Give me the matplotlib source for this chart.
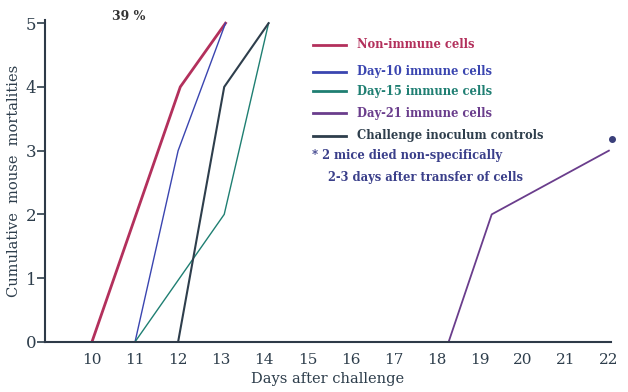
import matplotlib
matplotlib.use("Agg")
from matplotlib import pyplot as plt

# Data (days after challenge, cumulative mortalities)
non_immune_x = [10, 12.05, 13.1]
non_immune_y = [0, 4, 5]
day10_x = [11, 12.0, 13.1]
day10_y = [0, 3, 5]
day15_x = [11, 13.07, 14.1]
day15_y = [0, 2, 5]
day21_x = [18.28, 19.28, 22]
day21_y = [0, 2, 3]
control_x = [12, 13.07, 14.1]
control_y = [0, 4, 5]

x_ticks = [10, 11, 12, 13, 14, 15, 16, 17, 18, 19, 20, 21, 22]
y_ticks = [0, 1, 2, 3, 4, 5]

labels = ["Non-immune cells", "Day-10 immune cells", "Day-15 immune cells",
          "Day-21 immune cells", "Challenge inoculum controls"]
colors = ["#b3305c", "#3a45b0", "#1f7f72", "#6a3d8c", "#2e3e4c"]

plt.rcParams['font.family'] = ['DejaVu Serif']

fig = plt.figure(figsize=(6.28, 3.92), dpi=100)
ax = fig.add_axes([0.071, 0.128, 0.902, 0.821])

ax.plot(non_immune_x, non_immune_y, color=colors[0], lw=2.0)
ax.plot(day10_x, day10_y, color=colors[1], lw=1.0)
ax.plot(day15_x, day15_y, color=colors[2], lw=1.0)
ax.plot(day21_x, day21_y, color=colors[3], lw=1.3)
ax.plot(control_x, control_y, color=colors[4], lw=1.5)
ax.plot([22.08], [3.18], 'o', color="#3a3f7a", ms=4, clip_on=False)

ax.set_xlim(8.9, 22.05)
ax.set_ylim(0, 5.05)
ax.set_xticks(x_ticks)
ax.set_yticks(y_ticks)
ax.tick_params(axis='x', length=0, pad=8, labelsize=11, colors="#2e3e4c")
ax.tick_params(axis='y', length=6, width=1.2, pad=0, labelsize=12, colors="#2e3e4c")
ax.spines['top'].set_visible(False)
ax.spines['right'].set_visible(False)
ax.spines['left'].set_linewidth(1.5)
ax.spines['bottom'].set_linewidth(1.5)
ax.spines['left'].set_color("#2e3a48")
ax.spines['bottom'].set_color("#2e3a48")

ax.set_xlabel("Days after challenge", fontsize=10.5, color="#2e3e4c", labelpad=4)
ax.set_ylabel("Cumulative  mouse  mortalities", fontsize=10.5, color="#2e3e4c", labelpad=3)

# Legend drawn by hand in figure coordinates
leg_y = [45, 72, 91, 113, 136]
for lab, col, yy in zip(labels, colors, leg_y):
    fy = 1 - yy / 392
    fig.add_artist(plt.Line2D([313 / 628, 346 / 628], [fy, fy], color=col, lw=2.0,
                              transform=fig.transFigure))
    fig.text(357 / 628, fy, lab, color=col, fontsize=8.3, fontweight='bold', va='center')

fig.text(312 / 628, 1 - 155 / 392, "* 2 mice died non-specifically", color="#3a3f8a",
         fontsize=8.3, fontweight='bold', va='center')
fig.text(328 / 628, 1 - 178 / 392, "2-3 days after transfer of cells", color="#3a3f8a",
         fontsize=8.3, fontweight='bold', va='center')
fig.text(112 / 628, 1 - 17 / 392, "39 %", color="#333333", fontsize=9,
         fontweight='bold', va='center')

fig.savefig("out.png", dpi=100)
